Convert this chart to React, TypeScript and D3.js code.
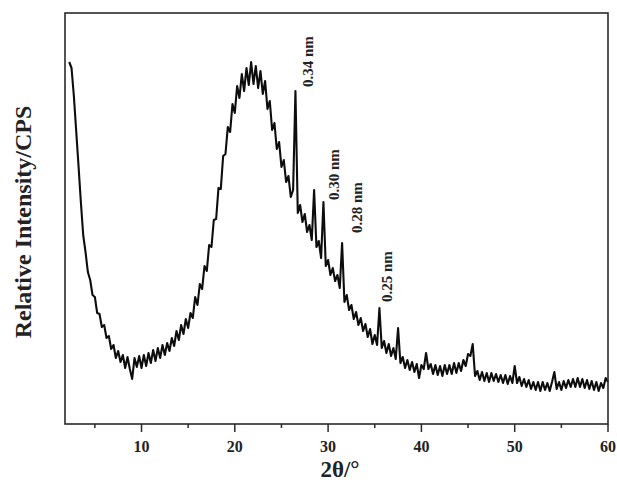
import React from 'react';
import * as d3 from 'd3';

// 2θ grid: 2.25° .. 60° in 0.25° steps
const twoTheta = d3.range(2.25, 60.001, 0.25);

// relative intensity, one row per degree
const intensity = [
  362, 356, 328, // 2
  293, 258, 222, 189, // 3
  172, 152, 144, 129, // 4
  127, 111, 110, 97, // 5
  99, 86, 88, 75, // 6
  79, 66, 73, 62, // 7
  69, 56, 67, 55, // 8
  45, 66, 57, 68, // 9
  56, 69, 58, 71, // 10
  61, 74, 63, 76, // 11
  66, 79, 69, 81, // 12
  73, 86, 78, 93, // 13
  84, 99, 90, 105, // 14
  96, 111, 106, 127, // 15
  119, 140, 135, 158, // 16
  153, 179, 177, 204, // 17
  205, 236, 235, 268, // 18
  270, 297, 292, 320, // 19
  311, 338, 326, 350, // 20
  333, 356, 339, 362, // 21
  340, 358, 336, 353, // 22
  330, 343, 315, 323, // 23
  294, 301, 275, 282, // 24
  257, 264, 242, 248, // 25
  227, 234, 333, 211, // 26
  219, 202, 210, 192, // 27
  199, 184, 234, 177, // 28
  183, 166, 222, 158, // 29
  164, 149, 156, 143, // 30
  149, 136, 181, 122, // 31
  129, 114, 119, 105, // 32
  112, 99, 106, 93, // 33
  100, 87, 95, 80, // 34
  89, 79, 116, 76, // 35
  83, 71, 80, 68, // 36
  76, 65, 96, 61, // 37
  67, 56, 64, 54, // 38
  62, 52, 60, 46, // 39
  59, 55, 71, 55, // 40
  60, 50, 59, 49, // 41
  58, 48, 59, 50, // 42
  59, 50, 61, 51, // 43
  61, 53, 64, 58, // 44
  70, 68, 80, 48, // 45
  53, 44, 52, 43, // 46
  51, 42, 51, 43, // 47
  50, 42, 49, 41, // 48
  49, 40, 48, 41, // 49
  58, 41, 47, 38, // 50
  45, 37, 44, 35, // 51
  42, 34, 42, 33, // 52
  42, 34, 41, 33, // 53
  42, 52, 35, 42, // 54
  34, 43, 36, 44, // 55
  37, 45, 37, 46, // 56
  37, 45, 36, 44, // 57
  35, 43, 34, 42, // 58
  33, 41, 36, 46, // 59
  42, // 60
];

const majorTicks = [10, 20, 30, 40, 50, 60];
const minorTicks = [5, 15, 25, 35, 45, 55];

// d-spacing annotations: label, 2θ of the label's baseline, intensity at its lower end
const peakLabels = ['0.34 nm', '0.30 nm', '0.28 nm', '0.25 nm'];
const peakLabelX = [28.4, 31.2, 33.65, 36.85];
const peakLabelBase = [337, 224, 191, 122];

const W = 617;
const H = 483;
const margin = { left: 65, right: 9, top: 13, bottom: 59 };
const font = '"Liberation Serif", "Times New Roman", serif';

export default function App() {
  const x = d3.scaleLinear().domain([1.8, 60]).range([margin.left, W - margin.right]);
  const y = d3.scaleLinear().domain([0, 411]).range([H - margin.bottom, margin.top]);

  const data = twoTheta
    .map((t, i) => [t, intensity[i]] as [number, number])
    .filter((d) => d[1] != null);
  const line = d3
    .line<[number, number]>()
    .x((d) => x(d[0]))
    .y((d) => y(d[1]));

  const bottom = H - margin.bottom;

  return (
    <svg
      width={W}
      height={H}
      style={{ position: 'absolute', left: 0, top: 0, background: '#fff' }}
      fontFamily={font}
      fontWeight="bold"
    >
      <path d={line(data) || ''} fill="none" stroke="#0d0d0d" strokeWidth={2.1} strokeLinejoin="round" />

      <rect
        x={margin.left}
        y={margin.top}
        width={W - margin.left - margin.right}
        height={bottom - margin.top}
        fill="none"
        stroke="#2a2a2a"
        strokeWidth={1.6}
      />

      {majorTicks.map((t) => (
        <g key={t} transform={`translate(${x(t)},${bottom})`}>
          <line y1={0} y2={8} stroke="#2a2a2a" strokeWidth={1.5} />
          <text y={28} textAnchor="middle" fontSize={16} fill="#222">
            {t}
          </text>
        </g>
      ))}
      {minorTicks.map((t) => (
        <line key={t} x1={x(t)} x2={x(t)} y1={bottom} y2={bottom + 4} stroke="#2a2a2a" strokeWidth={1.5} />
      ))}

      <text x={340} y={477} textAnchor="middle" fontSize={23} fill="#222">
        2θ/°
      </text>
      <text transform="translate(31,222) rotate(-90)" textAnchor="middle" fontSize={24} fill="#222">
        Relative Intensity/CPS
      </text>

      {peakLabels.map((lab, i) => (
        <text
          key={lab}
          transform={`translate(${x(peakLabelX[i])},${y(peakLabelBase[i])}) rotate(-90)`}
          fontSize={15}
          fill="#222"
        >
          {lab}
        </text>
      ))}
    </svg>
  );
}
